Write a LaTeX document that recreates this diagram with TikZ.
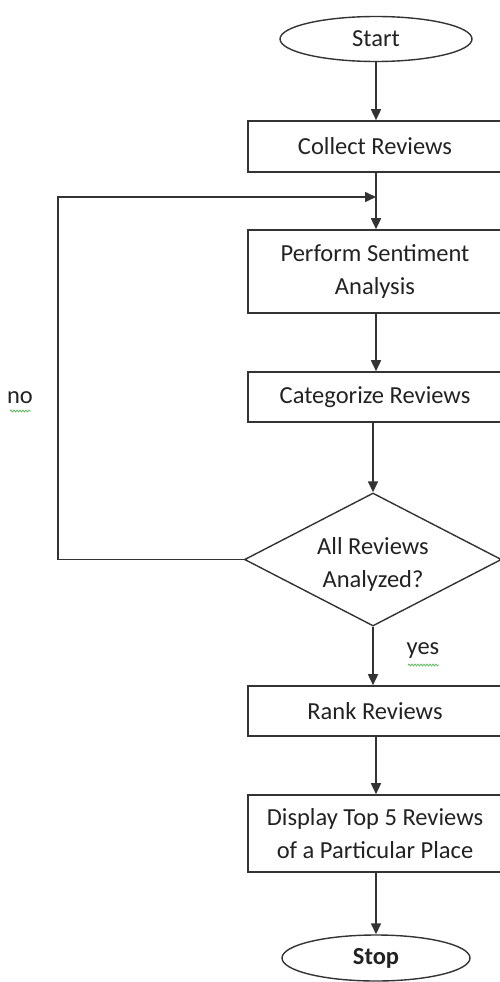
\documentclass[tikz,border=0pt]{standalone}
\usepackage{fontspec}
\setmainfont{Carlito}
\usetikzlibrary{shapes.geometric,arrows.meta,decorations.pathmorphing}
\definecolor{linec}{HTML}{333333}
\definecolor{txtc}{HTML}{222222}
\definecolor{squig}{HTML}{5DB85D}
\begin{document}
\begin{tikzpicture}[x=1pt,y=-1pt,
  every node/.style={font=\fontsize{24.5}{33}\selectfont, text=txtc},
  stepbox/.style={draw=linec, line width=1.6pt, rectangle, minimum width=254pt, inner sep=0pt, align=center},
  termbox/.style={draw=linec, line width=1.4pt, ellipse, inner sep=0pt},
  decbox/.style={draw=linec, line width=1.4pt, diamond, aspect=1.93, minimum width=257pt, minimum height=133pt, inner sep=0pt, align=center},
  flow/.style={draw=linec, line width=1.6pt, -{Triangle[length=11pt,width=10pt]}},
  wavy/.style={draw=squig, line width=0.8pt, decorate, decoration={snake, amplitude=0.9pt, segment length=3pt}}
]
\useasboundingbox (0,0) rectangle (500,982);
\clip (0,0) rectangle (500,982);
\node[termbox, minimum width=192pt, minimum height=45pt] (start) at (376,39) {Start};
\node[stepbox, minimum height=51pt] (collect) at (375,146.5) {Collect Reviews};
\node[stepbox, minimum height=83pt] (perform) at (375,271.5) {Perform Sentiment\\Analysis};
\node[stepbox, minimum height=50pt] (categ) at (375,397) {Categorize Reviews};
\node[decbox] (dec) at (373,559.5) {};
\node[align=center] (dectext) at (373,564) {All Reviews\\Analyzed?};
\node[stepbox, minimum height=50pt] (rank) at (375,711) {Rank Reviews};
\node[stepbox, minimum height=77pt] (display) at (375,833.5) {Display Top 5 Reviews\\of a Particular Place};
\node[termbox, minimum width=188pt, minimum height=46pt, font=\fontsize{24.5}{33}\selectfont\bfseries] (stop) at (376,958) {Stop};
\node (no) at (20,398) {no};
\node (yes) at (423,651) {yes};
\draw[wavy] (10,411) -- (31,411);
\draw[wavy] (408,665) -- (439,665);

\coordinate (j) at (376,197);
\coordinate (lx) at (58,0);

\draw[flow] (start.south) -- (start.south |- collect.north);
\draw[line width=1.6pt, draw=linec] (collect.south -| j) -- (j);
\draw[flow] (j) -- (j |- perform.north);
\draw[flow] (dec.west) -- (dec.west -| lx) |- (j);
\draw[flow] (perform.south -| j) -- (j |- categ.north);
\draw[flow] (categ.south -| dec.north) -- (dec.north);
\draw[flow] (dec.south) -- (dec.south |- rank.north);
\draw[flow] (rank.south -| j) -- (j |- display.north);
\draw[flow] (display.south -| stop.north) -- (stop.north);
\end{tikzpicture}
\end{document}
